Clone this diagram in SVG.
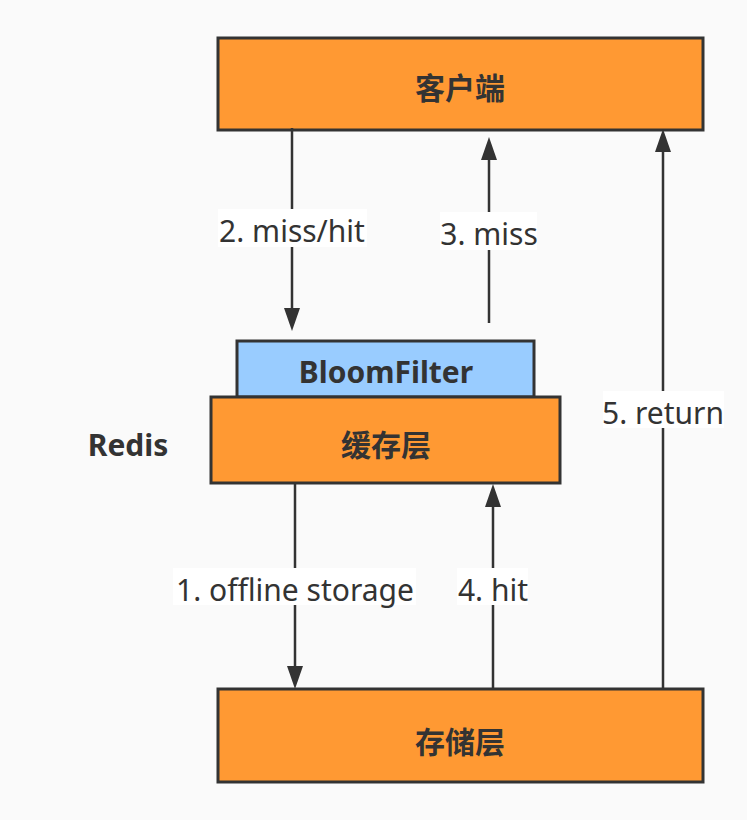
<svg xmlns="http://www.w3.org/2000/svg" width="747" height="820" viewBox="0 0 747 820">
<style>
.box{stroke:#333;stroke-width:3}
.orange{fill:#ff9933}
.blue{fill:#99ccff}
.nt{font-family:"Noto Sans","Noto Sans CJK SC",sans-serif;font-weight:bold;font-size:30px;fill:#333;text-anchor:middle}
.line{stroke:#333;stroke-width:2.5;fill:none}
.head{fill:#333}
.lbg{fill:#ffffff}
.lt{font-family:"Noto Sans","Noto Sans CJK SC",sans-serif;font-size:30px;fill:#333;text-anchor:middle}
</style>
<rect width="747" height="820" fill="#fafafa"/>
<g id="client">
<rect class="box orange" x="218" y="38" width="485" height="92"/>
<text class="nt" x="460" y="99">客户端</text>
</g>
<g id="bloomfilter">
<rect class="box blue" x="237" y="341" width="297" height="56"/>
<text class="nt" x="386" y="383">BloomFilter</text>
</g>
<g id="cache">
<rect class="box orange" x="211" y="397" width="349" height="86"/>
<text class="nt" x="386" y="456">缓存层</text>
</g>
<g id="redis-label">
<text class="nt" x="128" y="456">Redis</text>
</g>
<g id="storage">
<rect class="box orange" x="218" y="689" width="485" height="93"/>
<text class="nt" x="460" y="753">存储层</text>
</g>
<g id="connectors">
<line class="line" x1="292" y1="128" x2="292" y2="310"/>
<polygon class="head" points="284,308 300,308 292,331"/>
<rect class="lbg" x="218" y="209" width="149" height="38"/>
<text class="lt" x="292" y="242">2. miss/hit</text>

<line class="line" x1="489" y1="323" x2="489" y2="158"/>
<polygon class="head" points="481,160 497,160 489,137"/>
<rect class="lbg" x="440" y="212" width="97" height="38"/>
<text class="lt" x="489" y="245">3. miss</text>

<line class="line" x1="663" y1="688" x2="663" y2="150"/>
<polygon class="head" points="655,152 671,152 663,129"/>
<rect class="lbg" x="603" y="391" width="121" height="37"/>
<text class="lt" x="663" y="424">5. return</text>

<line class="line" x1="295" y1="484" x2="295" y2="668"/>
<polygon class="head" points="287,666 303,666 295,689"/>
<rect class="lbg" x="173" y="568" width="243" height="37"/>
<text class="lt" x="295" y="601">1. offline storage</text>

<line class="line" x1="493" y1="688" x2="493" y2="505"/>
<polygon class="head" points="485,507 501,507 493,484"/>
<rect class="lbg" x="457" y="568" width="71" height="37"/>
<text class="lt" x="493" y="601">4. hit</text>
</g>
</svg>
